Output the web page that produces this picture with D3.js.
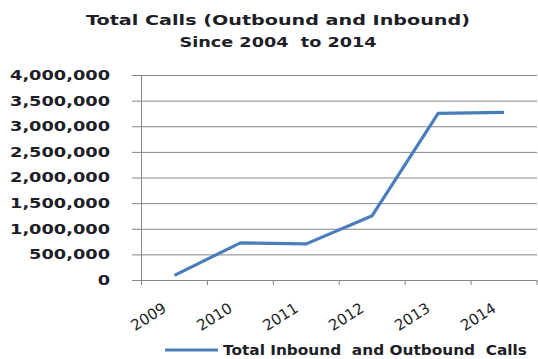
<!DOCTYPE html>
<html>
<head>
<meta charset="utf-8">
<script src="https://cdn.jsdelivr.net/npm/d3@7"></script>
<style>
  html, body { margin: 0; padding: 0; background: #fff; }
  svg { display: block; }
  text { font-family: "DejaVu Sans", Verdana, sans-serif; fill: #1e1e28; white-space: pre; }
</style>
</head>
<body>
<svg id="chart" width="538" height="359"></svg>
<script>
const titleLines = ["Total Calls (Outbound and Inbound)", "Since 2004  to 2014"];
const years = ["2009", "2010", "2011", "2012", "2013", "2014"];
const calls = [90000, 725000, 705000, 1255000, 3250000, 3270000];
const yTicks = [0, 500000, 1000000, 1500000, 2000000, 2500000, 3000000, 3500000, 4000000];
const seriesName = "Total Inbound  and Outbound  Calls";

const svg = d3.select("#chart");
const plot = { left: 141.5, right: 537, top: 75, bottom: 280 };

const x = d3.scaleBand().domain(years).range([plot.left, plot.right]).padding(0);
const y = d3.scaleLinear().domain([0, 4000000]).range([plot.bottom, plot.top]);

// Title
const titleWidths = [384, 197];
titleLines.forEach((t, i) => {
  svg.append("text")
    .attr("x", 278).attr("y", [25, 47][i])
    .attr("text-anchor", "middle")
    .attr("font-size", 14).attr("font-weight", "bold")
    .attr("textLength", titleWidths[i]).attr("lengthAdjust", "spacingAndGlyphs")
    .text(t);
});

// Y axis with gridlines
const yAxis = d3.axisLeft(y)
  .tickValues(yTicks)
  .tickSize(-(plot.right - 132))
  .tickPadding(22)
  .tickFormat(d3.format(","));
const yg = svg.append("g").attr("transform", "translate(132,0)").call(yAxis);
yg.select(".domain").remove();
yg.selectAll(".tick line").attr("stroke", "#868686").attr("stroke-width", 1);
yg.selectAll(".tick text")
  .attr("font-size", 14).attr("font-weight", "bold")
  .attr("fill", "#1e1e28")
  .style("font-family", "'DejaVu Sans', Verdana, sans-serif");
const refNode = yg.selectAll(".tick text").filter(d => d === 4000000).node();
const factor = 100 / refNode.getComputedTextLength();
yg.selectAll(".tick text").each(function() {
  const w = this.getComputedTextLength();
  d3.select(this).attr("textLength", w * factor).attr("lengthAdjust", "spacingAndGlyphs");
});

// Vertical axis line
svg.append("line")
  .attr("x1", plot.left).attr("x2", plot.left)
  .attr("y1", plot.top).attr("y2", plot.bottom + 5)
  .attr("stroke", "#868686").attr("stroke-width", 1);

// X tick marks at band edges
const edges = years.map(d => x(d)).concat([x(years[years.length - 1]) + x.bandwidth()]);
svg.selectAll(".xtick").data(edges.slice(1)).enter().append("line")
  .attr("x1", d => d).attr("x2", d => d)
  .attr("y1", plot.bottom).attr("y2", plot.bottom + 5)
  .attr("stroke", "#868686").attr("stroke-width", 1);

// X labels
svg.selectAll(".xlabel").data(years).enter().append("text")
  .attr("transform", d => `translate(${x(d) + x.bandwidth() / 2 - 7},${plot.bottom + 31}) rotate(-32)`)
  .attr("text-anchor", "end")
  .attr("font-size", 15)
  .attr("fill", "#15151c")
  .text(d => d);

// Line
const line = d3.line()
  .x((d, i) => x(years[i]) + x.bandwidth() / 2)
  .y(d => y(d));
svg.append("path")
  .datum(calls)
  .attr("d", line)
  .attr("fill", "none")
  .attr("stroke", "#4a7ebb")
  .attr("stroke-width", 3.2)
  .attr("stroke-linejoin", "round");

// Legend
svg.append("line")
  .attr("x1", 165).attr("x2", 218)
  .attr("y1", 350).attr("y2", 350)
  .attr("stroke", "#4a7ebb").attr("stroke-width", 3);
svg.append("text")
  .attr("x", 223).attr("y", 355)
  .attr("font-size", 14).attr("font-weight", "bold")
  .attr("textLength", 304).attr("lengthAdjust", "spacingAndGlyphs")
  .text(seriesName);
</script>
</body>
</html>
